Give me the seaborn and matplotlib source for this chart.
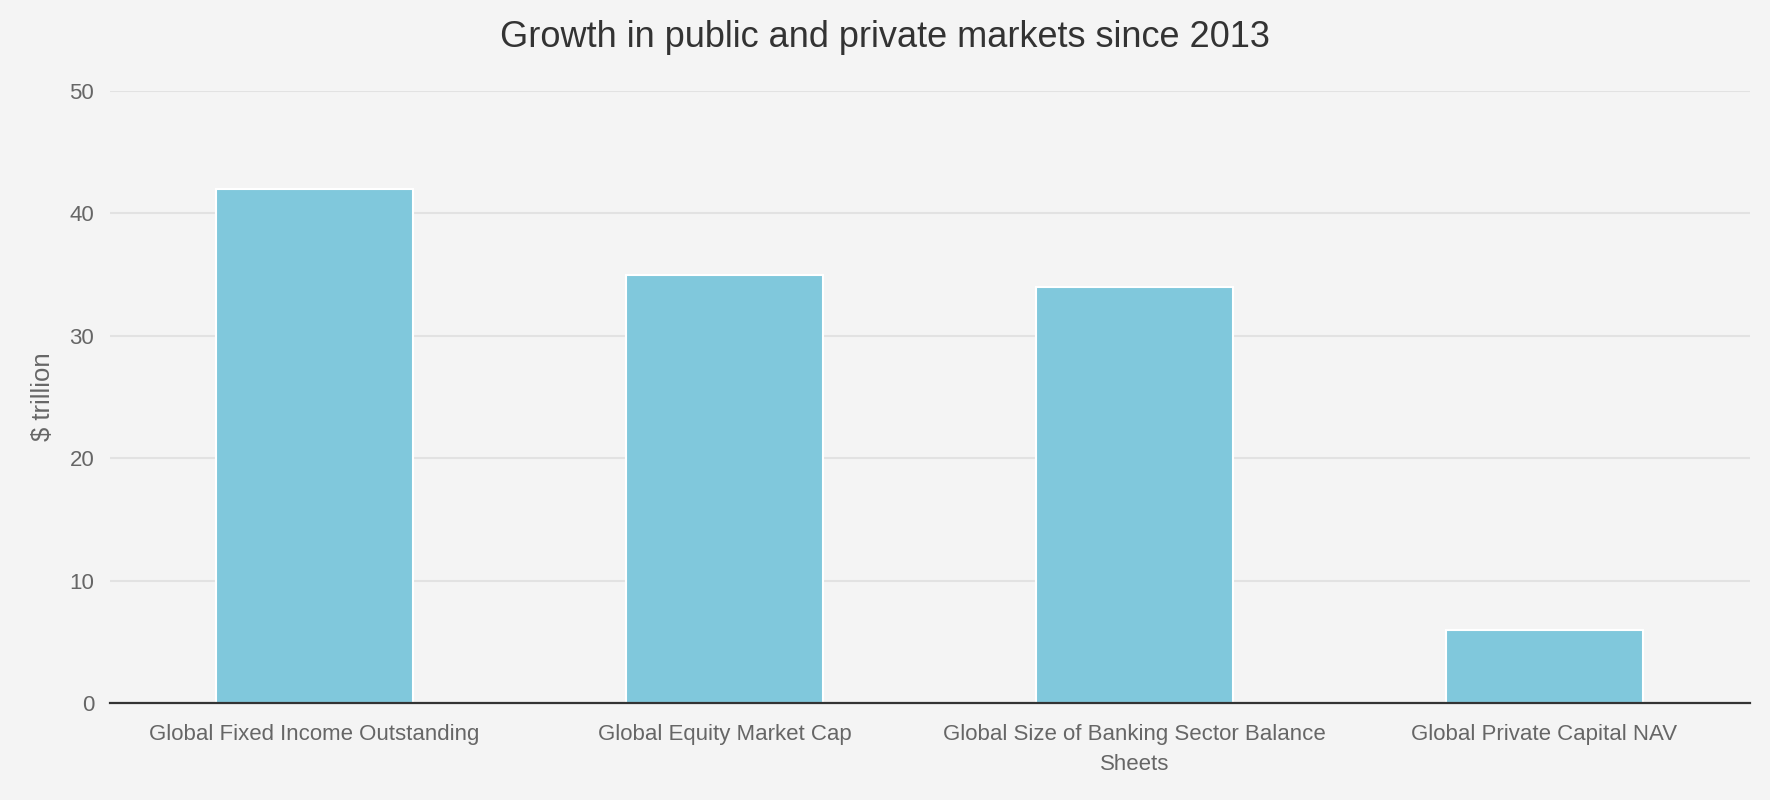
import pandas as pd
import matplotlib.pyplot as plt
import seaborn as sns

# Chart data
categories = [
    "Global Fixed Income Outstanding",
    "Global Equity Market Cap",
    "Global Size of Banking Sector Balance\nSheets",
    "Global Private Capital NAV",
]
values = [42, 35, 34, 6]

df = pd.DataFrame({"category": categories, "value": values})

sns.set_theme(style="whitegrid")
plt.rcParams['font.family'] = ['Liberation Sans', 'DejaVu Sans']

bg = "#f4f4f4"
fig = plt.figure(figsize=(17.7, 8), dpi=100, facecolor=bg)
ax = fig.add_axes([109.5 / 1770, 97 / 800, 1640 / 1770, 612 / 800])
ax.set_facecolor(bg)

sns.barplot(data=df, x="category", y="value", color="#80c8dc", saturation=1,
            width=0.48, edgecolor="white", linewidth=1.5, ax=ax, zorder=2)

ax.set_ylim(0, 50)
ax.set_xlim(-0.5, 3.5)
ax.set_yticks([0, 10, 20, 30, 40, 50])
ax.grid(axis="y", color="#e2e2e2", linewidth=1.5, zorder=0)
ax.grid(axis="x", visible=False)
ax.set_axisbelow(True)

for s in ["top", "right", "left"]:
    ax.spines[s].set_visible(False)
ax.spines["bottom"].set_color("#333333")
ax.spines["bottom"].set_linewidth(1.6)
ax.spines["bottom"].set_zorder(3)

ax.tick_params(axis="both", length=0, labelsize=16, labelcolor="#666666")
ax.tick_params(axis="x", pad=15)
ax.tick_params(axis="y", pad=11)
for lbl in ax.get_xticklabels():
    lbl.set_linespacing(1.55)

ax.set_xlabel("")
ax.set_ylabel("$ trillion", fontsize=18.5, color="#666666", labelpad=10)
fig.text(0.5, 0.953, "Growth in public and private markets since 2013",
         ha="center", va="center", fontsize=26, color="#333333")

fig.savefig("out.png", dpi=100, facecolor=bg)
